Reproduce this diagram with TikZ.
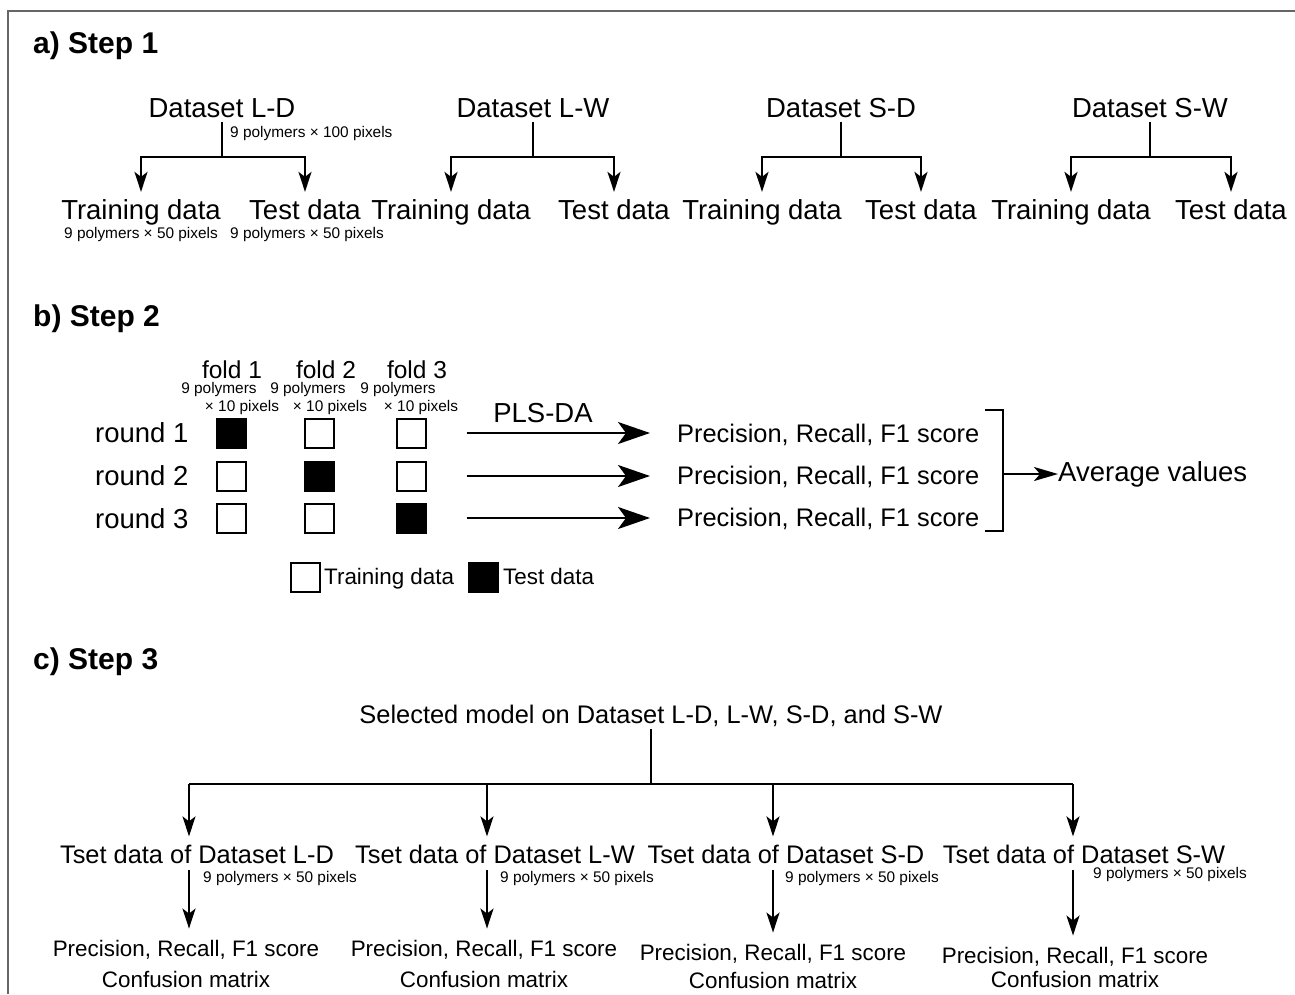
\documentclass[tikz,border=0pt]{standalone}
\usepackage{fontspec}
\setmainfont{Liberation Sans}
\usetikzlibrary{arrows.meta,calc}
\begin{document}
\begin{tikzpicture}[x=1pt,y=-1pt,
  big/.style={font=\fontsize{27.5}{30}\selectfont, inner sep=0pt, anchor=base},
  prec/.style={font=\fontsize{25.4}{28}\selectfont, inner sep=0pt, anchor=base},
  mid/.style={font=\fontsize{24.5}{27}\selectfont, inner sep=0pt, anchor=base},
  leg/.style={font=\fontsize{22.4}{25}\selectfont, inner sep=0pt, anchor=base},
  small/.style={font=\fontsize{15.4}{17}\selectfont, inner sep=0pt, anchor=base},
  title/.style={font=\fontsize{30}{32}\selectfont\bfseries, inner sep=0pt, anchor=base west},
  conn/.style={line width=2.2pt, draw=black},
  arrA/.style={conn, -{Stealth[length=20pt,width=13pt,inset=5pt]}},
  arrB/.style={conn, -{Stealth[length=32pt,width=22pt,inset=8pt]}},
  arrC/.style={conn, -{Stealth[length=24pt,width=14pt,inset=6pt]}},
  sq/.style={draw, line width=2pt, minimum size=29pt, inner sep=0pt},
  frame/.style={line width=2pt, draw=black!60}
]
\useasboundingbox (0,0) rectangle (1295,994);
\fill[white] (0,0) rectangle (1295,994);
\draw[frame] (8,994) -- (8,11) -- (1295,11);

% ---------------- a) Step 1
\node[title] (ta) at (33,53) {a) Step 1};
\foreach \n/\x/\l/\r/\t in {LD/222/141/305/L-D, LW/533/451/614/L-W, SD/841/762/921/S-D, SW/1150/1071/1231/S-W}{
  \node[big] (ds\n) at (\x,117) {Dataset \t};
  \node[big] (tr\n) at (\l,219) {Training data};
  \node[big] (te\n) at (\r,219) {Test data};
  \coordinate (b\n) at (\x,157);
  \draw[conn] ($(ds\n.south)+(0,5)$) -- (b\n);
  \draw[arrA] (b\n) -| ($(tr\n.north)+(0,-7)$);
  \draw[arrA] (b\n) -| ($(te\n.north)+(0,-7)$);
}
\node[small, anchor=base west] (szds) at (230,137) {9 polymers × 100 pixels};
\node[small] (sztr) at (141,238) {9 polymers × 50 pixels};
\node[small] (szte) at (307,238) {9 polymers × 50 pixels};

% ---------------- b) Step 2
\node[title] (tb) at (33,326) {b) Step 2};
\node[mid] (f1) at (232,378) {fold 1};
\node[mid] (f2) at (326,378) {fold 2};
\node[mid] (f3) at (417,378) {fold 3};
\node[small] (fa1) at (219,393) {9 polymers};
\node[small] (fb1) at (242,411) {× 10 pixels};
\node[small] (fa2) at (308,393) {9 polymers};
\node[small] (fb2) at (330,411) {× 10 pixels};
\node[small] (fa3) at (398,393) {9 polymers};
\node[small] (fb3) at (421,411) {× 10 pixels};

\node[big, anchor=base west] (r1) at (95,442) {round 1};
\node[big, anchor=base west] (r2) at (95,485) {round 2};
\node[big, anchor=base west] (r3) at (95,528) {round 3};

\node[sq, fill=black] (s11) at (231,433) {};
\node[sq] (s12) at (319,433) {};
\node[sq] (s13) at (411,433) {};
\node[sq] (s21) at (231,476) {};
\node[sq, fill=black] (s22) at (319,476) {};
\node[sq] (s23) at (411,476) {};
\node[sq] (s31) at (231,518) {};
\node[sq] (s32) at (319,518) {};
\node[sq, fill=black] (s33) at (411,518) {};

\node[prec, anchor=base west] (p1) at (677,442) {Precision, Recall, F1 score};
\node[prec, anchor=base west] (p2) at (677,484) {Precision, Recall, F1 score};
\node[prec, anchor=base west] (p3) at (677,526) {Precision, Recall, F1 score};

\draw[arrB, shorten <=40pt, shorten >=27pt] (s13.east) -- (s13.east -| p1.west);
\draw[arrB, shorten <=40pt, shorten >=27pt] (s23.east) -- (s23.east -| p2.west);
\draw[arrB, shorten <=40pt, shorten >=27pt] (s33.east) -- (s33.east -| p3.west);
\node[big] (pls) at (543,422) {PLS-DA};

\coordinate (bt) at (1003,410);
\coordinate (bb) at (1003,531);
\coordinate (bm) at (1003,474);
\draw[conn] ($(bt)+(-18,0)$) -- (bt) -- (bb) -- ($(bb)+(-18,0)$);
\node[big, anchor=west] (avg) at (1058,474) {Average values};
\draw[arrC] (bm) -- (bm -| avg.west);

\node[sq] (lw) at (305,577) {};
\node[leg, anchor=base west] (lwt) at (324,584) {Training data};
\node[sq, fill=black] (lb) at (483,577) {};
\node[leg, anchor=base west] (lbt) at (503,584) {Test data};

% ---------------- c) Step 3
\node[title] (tc) at (33,669) {c) Step 3};
\node[prec] (sel) at (651,723) {Selected model on Dataset L-D, L-W, S-D, and S-W};
\coordinate (hub) at (651,784);
\draw[conn] ($(sel.south)+(0,3)$) -- (hub);
\coordinate (j1) at (189,784);
\coordinate (j2) at (487,784);
\coordinate (j3) at (773,784);
\coordinate (j4) at (1073,784);
\draw[conn] (j1) -- (j4);

\node[prec] (t1) at (197,863) {Tset data of Dataset L-D};
\node[prec] (t2) at (495,863) {Tset data of Dataset L-W};
\node[prec] (t3) at (786,863) {Tset data of Dataset S-D};
\node[prec] (t4) at (1084,863) {Tset data of Dataset S-W};

\node[small, anchor=base west] (z1) at (203,882) {9 polymers × 50 pixels};
\node[small, anchor=base west] (z2) at (500,882) {9 polymers × 50 pixels};
\node[small, anchor=base west] (z3) at (785,882) {9 polymers × 50 pixels};
\node[small, anchor=base west] (z4) at (1093,878) {9 polymers × 50 pixels};

\node[leg] (q1) at (186,956) {Precision, Recall, F1 score};
\node[leg] (q2) at (484,956) {Precision, Recall, F1 score};
\node[leg] (q3) at (773,960) {Precision, Recall, F1 score};
\node[leg] (q4) at (1075,963) {Precision, Recall, F1 score};
\node[leg] (c1) at (186,987) {Confusion matrix};
\node[leg] (c2) at (484,987) {Confusion matrix};
\node[leg] (c3) at (773,988) {Confusion matrix};
\node[leg] (c4) at (1075,987) {Confusion matrix};

\foreach \i in {1,2,3,4}{
  \draw[arrA] (j\i) -- ($(j\i |- t\i.north)+(0,-8)$);
  \draw[arrA] ($(t\i.south -| j\i)+(0,7)$) -- ($(q\i.north -| j\i)+(0,-11)$);
}
\end{tikzpicture}
\end{document}
